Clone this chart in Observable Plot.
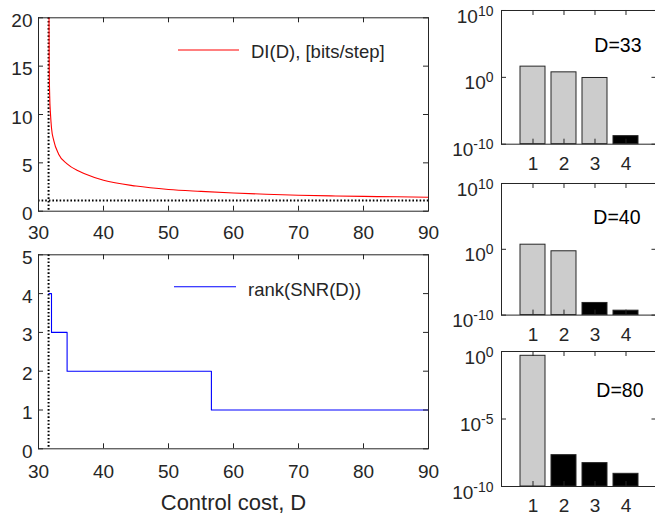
<!DOCTYPE html>
<html><head><meta charset="utf-8">
<script src="https://cdn.jsdelivr.net/npm/d3@7"></script>
<script src="https://cdn.jsdelivr.net/npm/@observablehq/plot@0.6"></script>
<style>
body{margin:0;background:#fff;overflow:hidden}
#fig{position:relative;width:655px;height:516px;overflow:hidden;font-family:"Liberation Sans",Arial,sans-serif;background:#fff}
#fig svg{position:absolute;overflow:visible;background:transparent}
</style></head><body><div id="fig"></div>
<script>
// ---------- data ----------
const xTicks = [30, 40, 50, 60, 70, 80, 90];
const diTicks = [0, 5, 10, 15, 20];
const rankTicks = [0, 1, 2, 3, 4, 5];
const critD = 31.55;      // vertical dotted line
const diFloor = 1.1;      // horizontal dotted line
const diD =    [31.62, 31.65, 31.72, 31.85, 32.0, 32.35, 33.1, 34.4, 36, 37, 40, 45, 50, 55, 60, 65, 70, 75, 80, 85, 90];
const diBits = [20, 15, 12, 10, 8.6, 7.3, 5.9, 4.9, 4.2, 3.9, 3.2, 2.6, 2.25, 2.05, 1.88, 1.75, 1.65, 1.58, 1.53, 1.49, 1.45];
const rankD =   [31.6, 32.0, 34.4, 56.6, 90];
const rankVal = [4, 3, 2, 1, 1];

const modes = [1, 2, 3, 4];
const panelTitles = ["D=33", "D=40", "D=80"];
const snrD33 = [40, 5.6, 0.8, 1.6e-9];
const snrD40 = [5, 0.5, 7e-9, 4.7e-10];
const snrD80 = [0.48, 2.1e-8, 5.4e-9, 8.7e-10];
const keptModes = [3, 2, 1];
const yDomainA = [1e-10, 1e10];
const yDomainB = [1e-10, 1];
const yTicksA = [1e-10, 1, 1e10];
const yTicksB = [1e-10, 1e-5, 1];

// ---------- helpers ----------
const AX = "#262626";
const FONT = "Liberation Sans, Arial, sans-serif";
const TL = 5; // inward tick length
const fig = document.getElementById("fig");
function place(svg, left, top) {
  svg.style.left = left + "px"; svg.style.top = top + "px";
  fig.appendChild(svg);
}
function boxTicks(xt, yt, W, H) {
  const s = {stroke: AX, strokeWidth: 1};
  return [
    Plot.tickX(xt, {x: d => d, insetTop: H - TL, ...s}),
    Plot.tickX(xt, {x: d => d, insetBottom: H - TL, ...s}),
    Plot.tickY(yt, {y: d => d, insetRight: W - TL, ...s}),
    Plot.tickY(yt, {y: d => d, insetLeft: W - TL, ...s})
  ];
}
const style = {fontFamily: FONT, fontSize: "19px", color: AX, background: "transparent", overflow: "visible"};
const dotted = {stroke: "black", strokeWidth: 2, strokeDasharray: "1.6 2"};
function legend(svg, x1, x2, y, ty, color, label) {
  const s = d3.select(svg);
  s.append("line").attr("x1", x1).attr("x2", x2).attr("y1", y).attr("y2", y)
    .attr("stroke", color).attr("stroke-width", 1.1);
  s.append("text").attr("x", x2 + 12).attr("y", ty).attr("dy", "0.35em")
    .attr("text-anchor", "start").attr("font-size", 18.5).attr("fill", AX).text(label);
}

// ---------- top-left: DI(D) ----------
const diData = diD.map((d, i) => ({D: d, v: diBits[i]}));
{
  const mL = 38, mR = 12, mT = 17.3, mB = 29.3, W = 440, Hh = 240;
  const p1 = Plot.plot({
    width: W, height: Hh,
    marginLeft: mL, marginRight: mR, marginTop: mT, marginBottom: mB,
    style,
    x: {domain: [30, 90]},
    y: {domain: [0, 20]},
    marks: [
      Plot.ruleX([critD], dotted),
      Plot.ruleY([diFloor], dotted),
      Plot.line(diData, {x: "D", y: "v", stroke: "#ff0000", strokeWidth: 1.1, curve: "monotone-x"}),
      Plot.frame({stroke: AX}),
      ...boxTicks(xTicks, diTicks, W - mL - mR, Hh - mT - mB),
      Plot.axisX({anchor: "bottom", ticks: xTicks, tickSize: 0, tickPadding: 14, label: null, tickFormat: d => String(d)}),
      Plot.axisY({anchor: "left", ticks: diTicks, tickSize: 0, tickPadding: 6, dy: 3, label: null, tickFormat: d => String(d)})
    ]
  });
  place(p1, 0, 0);
  legend(p1, 178, 239, 50, 51.7, "#ff0000", "DI(D), [bits/step]");
}

// ---------- bottom-left: rank(SNR(D)) ----------
const rankData = rankD.map((d, i) => ({D: d, r: rankVal[i]}));
{
  const T2 = 235;
  const mL = 38, mR = 12, mT = 254.3 - T2, W = 440, Hh = 281, mB = Hh - (448.3 - T2);
  const p2 = Plot.plot({
    width: W, height: Hh,
    marginLeft: mL, marginRight: mR, marginTop: mT, marginBottom: mB,
    style,
    x: {domain: [30, 90]},
    y: {domain: [0, 5]},
    marks: [
      Plot.ruleX([critD], dotted),
      Plot.line(rankData, {x: "D", y: "r", stroke: "#0000ff", strokeWidth: 1.1, curve: "step-after"}),
      Plot.frame({stroke: AX}),
      ...boxTicks(xTicks, rankTicks, W - mL - mR, Hh - mT - mB),
      Plot.axisX({anchor: "bottom", ticks: xTicks, tickSize: 0, tickPadding: 16, label: null, tickFormat: d => String(d)}),
      Plot.axisY({anchor: "left", ticks: rankTicks, tickSize: 0, tickPadding: 6, dy: 3, label: null, tickFormat: d => String(d)}),
      Plot.text(["Control cost, D"], {text: d => d, frameAnchor: "bottom", dy: 54, fontSize: 22, lineAnchor: "middle", fill: AX})
    ]
  });
  place(p2, 0, T2);
  legend(p2, 174, 236, 286.7 - T2, 289.5 - T2, "#0000ff", "rank(SNR(D))");
}

// ---------- right: mode bar charts ----------
function barPanel(values, kept, title, yDomain, yTicks, frameTop, frameBottom, tdx, tdy) {
  const data = modes.map((m, i) => ({mode: m, v: values[i], kept: i < kept}));
  const top = frameTop - 20;
  const h = frameBottom - frameTop + 50;
  const mL = 61, mR = 2, mT = 20, mB = 30, W = 218.5;
  const svg = Plot.plot({
    width: W, height: h,
    marginLeft: mL, marginRight: mR, marginTop: mT, marginBottom: mB,
    style,
    x: {type: "band", domain: modes, paddingInner: 0.2, paddingOuter: 0.6},
    y: {type: "log", domain: yDomain},
    marks: [
      Plot.barY(data, {x: "mode", y1: yDomain[0], y2: "v",
        fill: d => d.kept ? "#cccccc" : "#000000", stroke: AX, strokeWidth: 1}),
      Plot.frame({stroke: AX}),
      ...boxTicks(modes, yTicks, W - mL - mR, h - mT - mB),
      Plot.axisX({anchor: "bottom", ticks: modes, tickSize: 0, tickPadding: 12, label: null}),
      Plot.axisY({anchor: "left", ticks: yTicks, tickSize: 0, tickPadding: 8, dy: 6, label: null,
        tickFormat: d => "10^" + Math.round(Math.log10(d))}),
      Plot.text([title], {text: d => d, frameAnchor: "top-right", textAnchor: "end", lineAnchor: "middle",
        dx: tdx, dy: tdy, fontSize: 19.5, fill: "black"})
    ]
  });
  d3.select(svg).selectAll("text").each(function () {
    const s = this.textContent;
    if (!/^10\^/.test(s)) return;
    const e = s.split("^")[1];
    const t = d3.select(this);
    t.text(null);
    t.append("tspan").text("10");
    t.append("tspan").attr("dy", -7).attr("font-size", "14px").text(e);
  });
  place(svg, 440, top);
}
barPanel(snrD33, keptModes[0], panelTitles[0], yDomainA, yTicksA, 10, 143.7, -15.5, 35);
barPanel(snrD40, keptModes[1], panelTitles[1], yDomainA, yTicksA, 182.7, 314.3, -16.5, 34);
barPanel(snrD80, keptModes[2], panelTitles[2], yDomainB, yTicksB, 350.7, 485.7, -13.5, 39.3);
</script>
</body></html>
